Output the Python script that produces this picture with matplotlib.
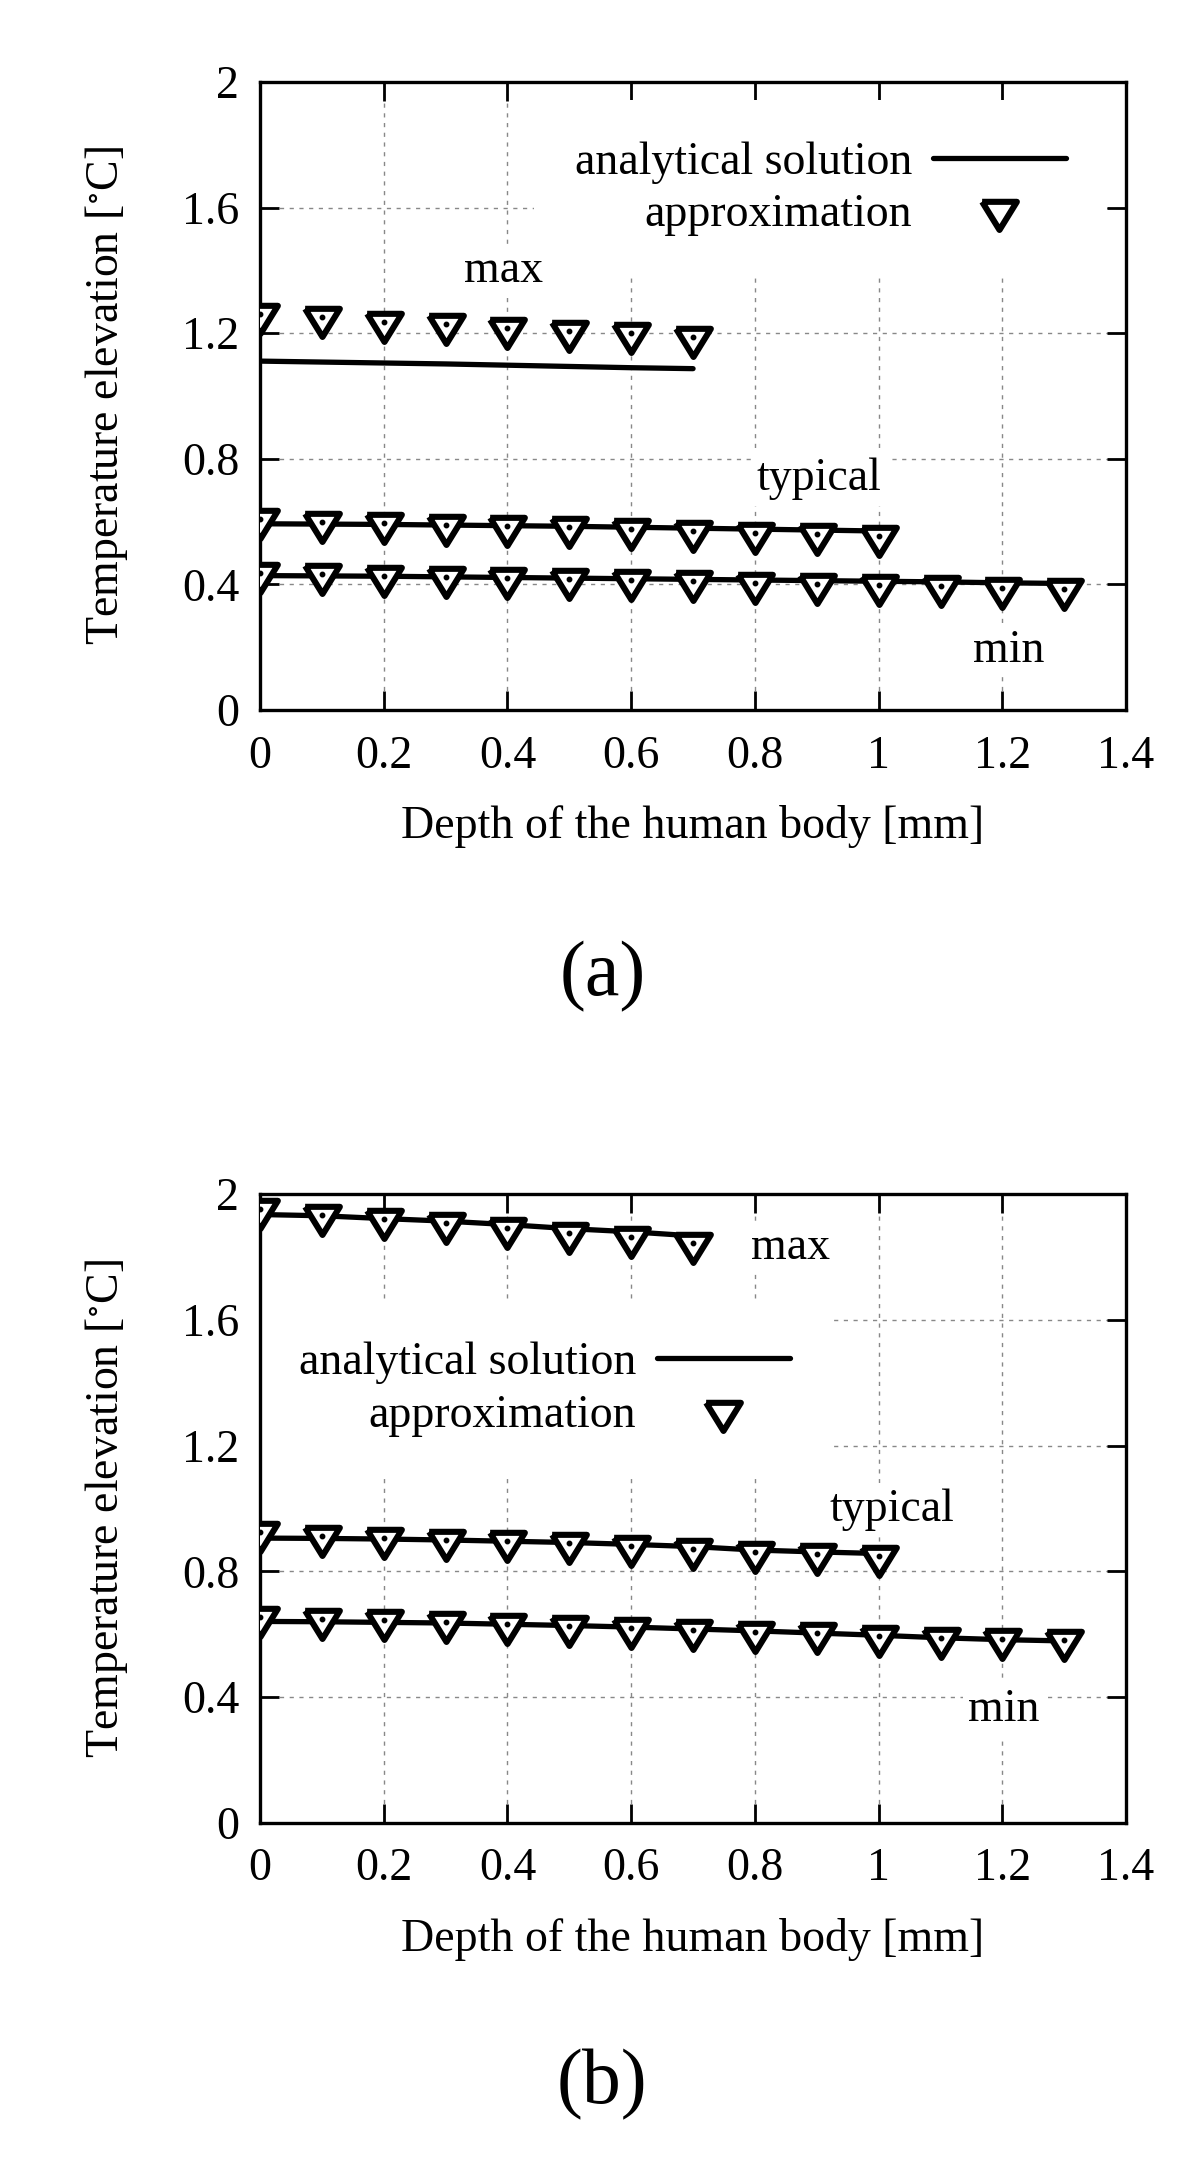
import matplotlib

matplotlib.use("Agg")

import matplotlib.pyplot as plt
from matplotlib.ticker import FormatStrFormatter

plt.rcParams["font.family"] = ["Liberation Serif", "DejaVu Serif"]
plt.rcParams["mathtext.fontset"] = "stix"

# depth [mm]
depth_max = [0.0, 0.1, 0.2, 0.3, 0.4, 0.5, 0.6, 0.7]
depth_typ = [0.0, 0.1, 0.2, 0.3, 0.4, 0.5, 0.6, 0.7, 0.8, 0.9, 1.0]
depth_min = [0.0, 0.1, 0.2, 0.3, 0.4, 0.5, 0.6, 0.7, 0.8, 0.9, 1.0, 1.1, 1.2, 1.3]

# (a)
a_max_line = [1.111, 1.108, 1.105, 1.102, 1.098, 1.094, 1.090, 1.087]
a_max_pts = [1.262, 1.251, 1.237, 1.228, 1.218, 1.208, 1.200, 1.187]
a_typ_line = [0.593, 0.592, 0.591, 0.589, 0.587, 0.585, 0.582, 0.579, 0.576, 0.573, 0.570]
a_typ_pts = [0.607, 0.598, 0.594, 0.590, 0.586, 0.582, 0.577, 0.571, 0.565, 0.560, 0.555]
a_min_line = [0.428, 0.427, 0.426, 0.424, 0.422, 0.420, 0.418, 0.416, 0.414, 0.412, 0.410, 0.408, 0.405, 0.403]
a_min_pts = [0.436, 0.432, 0.428, 0.425, 0.421, 0.418, 0.414, 0.410, 0.405, 0.401, 0.397, 0.394, 0.390, 0.386]

# (b)
b_max_line = [1.935, 1.931, 1.922, 1.914, 1.903, 1.890, 1.880, 1.867]
b_max_pts = [1.951, 1.935, 1.922, 1.907, 1.892, 1.875, 1.862, 1.844]
b_typ_line = [0.906, 0.905, 0.903, 0.900, 0.896, 0.892, 0.886, 0.879, 0.868, 0.862, 0.857]
b_typ_pts = [0.924, 0.912, 0.906, 0.901, 0.896, 0.889, 0.881, 0.872, 0.862, 0.856, 0.849]
b_min_line = [0.641, 0.640, 0.638, 0.636, 0.632, 0.628, 0.623, 0.617, 0.611, 0.604, 0.597, 0.589, 0.583, 0.579]
b_min_pts = [0.655, 0.648, 0.644, 0.639, 0.634, 0.628, 0.621, 0.614, 0.607, 0.603, 0.596, 0.589, 0.585, 0.581]

x_ticks = [0, 0.2, 0.4, 0.6, 0.8, 1.0, 1.2, 1.4]
y_ticks = [0, 0.4, 0.8, 1.2, 1.6, 2.0]

FS = 33
# gnuplot style open triangle, data point at the centre dot
TRI = [(-1.0, 0.5), (1.0, 0.5), (0.0, -1.12), (-1.0, 0.5)]


def draw_panel(ax, series, labels, legend_center):
    for i, (xs, line, pts) in enumerate(series):
        ax.plot(xs, line, color="black", lw=3.8, solid_capstyle="round",
                label="analytical solution" if i == 0 else None, zorder=3)
        ax.plot(xs, pts, ls="none", marker=TRI, ms=28, mfc="white", mec="black",
                mew=4.4, label="approximation" if i == 0 else None, zorder=4)
        ax.plot(xs, pts, ls="none", marker="o", ms=3.2, color="black", zorder=5)

    leg = ax.legend(loc="center", bbox_to_anchor=legend_center, markerfirst=False,
                    fontsize=FS, frameon=True, framealpha=1, facecolor="white",
                    edgecolor="none", fancybox=False, handlelength=2.9,
                    handletextpad=0.45, labelspacing=0.22, borderpad=0.9)
    leg.set_zorder(2)

    for text, x, y in labels:
        ax.text(x, y, text, fontsize=FS, ha="center", va="center", zorder=2.5,
                bbox=dict(facecolor="white", edgecolor="none", pad=4))

    ax.set_xlim(0, 1.4)
    ax.set_ylim(0, 2)
    ax.set_xticks(x_ticks)
    ax.set_yticks(y_ticks)
    ax.xaxis.set_major_formatter(FormatStrFormatter("%g"))
    ax.yaxis.set_major_formatter(FormatStrFormatter("%g"))
    ax.tick_params(direction="in", length=14, width=2, labelsize=FS, pad=18,
                   top=True, right=True)
    ax.tick_params(axis="y", pad=15)
    ax.set_axisbelow(True)
    ax.grid(True, color="#888888", lw=1.0, ls=(0, (3, 4)))
    for spine in ax.spines.values():
        spine.set_linewidth(2.4)
    ax.set_xlabel("Depth of the human body [mm]", fontsize=FS, labelpad=20)
    ax.set_ylabel("Temperature elevation [$^{\\circ}$C]", fontsize=FS, labelpad=37)


fig = plt.figure(figsize=(12, 21.62), dpi=100)
ax_a = fig.add_axes([0.2167, 0.6716, 0.7217, 0.2905])
ax_b = fig.add_axes([0.2167, 0.1568, 0.7217, 0.2909])

draw_panel(
    ax_a,
    [(depth_max, a_max_line, a_max_pts),
     (depth_typ, a_typ_line, a_typ_pts),
     (depth_min, a_min_line, a_min_pts)],
    [("max", 0.394, 1.40), ("typical", 0.904, 0.735), ("min", 1.21, 0.19)],
    (0.647, 0.830),
)
draw_panel(
    ax_b,
    [(depth_max, b_max_line, b_max_pts),
     (depth_typ, b_typ_line, b_typ_pts),
     (depth_min, b_min_line, b_min_pts)],
    [("max", 0.858, 1.83), ("typical", 1.021, 0.995), ("min", 1.203, 0.36)],
    (0.328, 0.69),
)

fig.text(0.502, 1 - 977 / 2162, "(a)", fontsize=56, ha="center", va="center")
fig.text(0.502, 1 - 2085 / 2162, "(b)", fontsize=56, ha="center", va="center")

fig.savefig("out.png", dpi=100)
plt.close(fig)
